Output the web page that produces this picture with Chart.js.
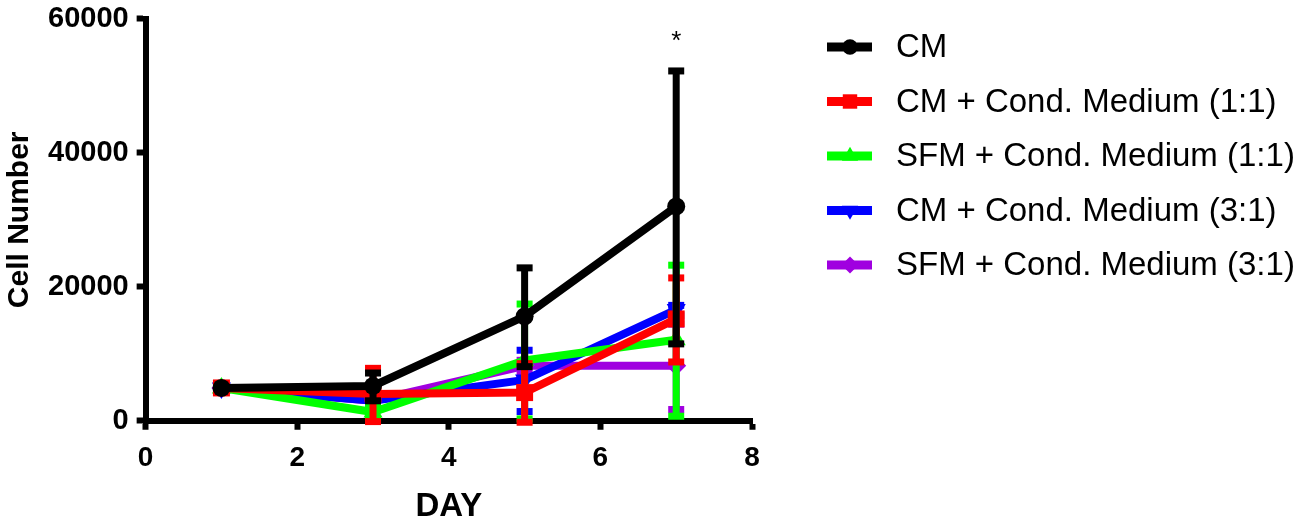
<!DOCTYPE html>
<html>
<head>
<meta charset="utf-8">
<script src="https://cdn.jsdelivr.net/npm/chart.js@4.4.1/dist/chart.umd.min.js"></script>
<style>
  html, body { margin: 0; padding: 0; background: #fff; }
  #wrap { width: 1298px; height: 528px; }
</style>
</head>
<body>
<div id="wrap"><canvas id="myChart" width="1298" height="528"></canvas></div>
<script>
// data
const days = [1, 3, 5, 7];
const seriesNames = ['CM', 'CM + Cond. Medium (1:1)', 'SFM + Cond. Medium (1:1)', 'CM + Cond. Medium (3:1)', 'SFM + Cond. Medium (3:1)'];
const cm      = [4900, 5200, 15600, 32000];
const cmErr   = [0, 2000, 7300, 20300];
const cm11    = [4900, 4000, 4200, 15200];
const cm11Err = [0, 3900, 4400, 6200];
const sfm11    = [4900, 1300, 9000, 12100];
const sfm11Err = [0, 800, 8500, 11200];
const cm31    = [4900, 3000, 6100, 16600];
const cm31Err = [0, 900, 4500, 700];
const sfm31    = [4900, 3000, 8200, 8200];
const sfm31Err = [0, 800, 900, 6300];
const yTicks = [0, 20000, 40000, 60000];
const xTicks = [0, 2, 4, 6, 8];
const sigDay = 7, sigValue = 56500, sigLabel = '*';

const colors = ['#000000', '#ff0000', '#00ff00', '#0000ff', '#a000e0'];
const shapes = ['circle', 'rect', 'triangle', 'triangle', 'rectRot'];
const rotations = [0, 0, 0, 180, 0];
const radii = [9, 12, 11, 11, 10];
const values = [cm, cm11, sfm11, cm31, sfm31];
const errors = [cmErr, cm11Err, sfm11Err, cm31Err, sfm31Err];

const datasets = values.map((vals, k) => ({
  label: seriesNames[k],
  data: days.map((d, i) => ({ x: d, y: vals[i] })),
  err: errors[k],
  borderColor: colors[k],
  backgroundColor: colors[k],
  borderWidth: 8,
  pointStyle: shapes[k],
  pointRotation: rotations[k],
  pointRadius: radii[k],
  pointBorderWidth: 0,
  pointHoverRadius: radii[k],
  tension: 0,
  clip: false
}));

// error bars drawn with each dataset so stacking order matches
const errorBars = {
  id: 'errorBars',
  afterDatasetDraw(chart, args) {
    const ds = chart.data.datasets[args.index];
    const xs = chart.scales.x, ys = chart.scales.y;
    const c = chart.ctx;
    c.save();
    c.strokeStyle = ds.borderColor;
    c.lineWidth = 7;
    c.lineCap = 'butt';
    ds.data.forEach((p, i) => {
      const e = ds.err[i];
      if (!e) return;
      const x = xs.getPixelForValue(p.x);
      const top = ys.getPixelForValue(p.y + e);
      const bot = ys.getPixelForValue(Math.max(p.y - e, 0)) + 2;
      c.beginPath();
      c.moveTo(x, top); c.lineTo(x, bot);
      c.stroke();
      c.fillStyle = ds.borderColor;
      c.fillRect(x - 8, top - 3, 16, 7);
      c.fillRect(x - 8, bot - 4, 16, 7);
    });
    c.restore();
  },
  afterDraw(chart) {
    const c = chart.ctx;
    const xs = chart.scales.x, ys = chart.scales.y;
    c.save();
    c.fillStyle = '#000';
    c.font = '26px "Liberation Sans", Arial, sans-serif';
    c.textAlign = 'center';
    c.textBaseline = 'middle';
    c.fillText(sigLabel, xs.getPixelForValue(sigDay), ys.getPixelForValue(sigValue));

    // legend: line segment with marker, then label
    c.font = '33px "Liberation Sans", Arial, sans-serif';
    c.textAlign = 'left';
    chart.data.datasets.forEach((ds, k) => {
      const y = 47 + k * 54.5;
      c.strokeStyle = ds.borderColor;
      c.lineWidth = 9;
      c.beginPath();
      c.moveTo(827, y); c.lineTo(872, y);
      c.stroke();
      c.fillStyle = ds.borderColor;
      Chart.helpers.drawPoint(c, { pointStyle: ds.pointStyle, rotation: ds.pointRotation, radius: ds.pointRadius * 0.85, borderWidth: 0 }, 850, y);
      c.fillStyle = '#000';
      c.fillText(ds.label, 896, y + 1);
    });
    c.restore();
  }
};

const ctx = document.getElementById('myChart');
new Chart(ctx, {
  type: 'line',
  data: { datasets: datasets },
  options: {
    responsive: false,
    animation: false,
    layout: { padding: { top: 0, right: 546, bottom: 4, left: 0 } },
    plugins: { legend: { display: false }, tooltip: { enabled: false } },
    scales: {
      x: {
        type: 'linear',
        min: 0, max: 8,
        afterBuildTicks: (s) => { s.ticks = xTicks.map(v => ({ value: v })); },
        grid: { drawOnChartArea: false, drawTicks: true, tickLength: 9, tickWidth: 6, tickColor: '#000' },
        border: { display: true, color: '#000', width: 6 },
        ticks: { color: '#000', padding: 12, font: { family: '"Liberation Sans Narrow", "Liberation Sans", Arial', size: 28, weight: 'bold' } },
        title: { display: true, text: 'DAY', color: '#000', padding: { top: 2, bottom: 0 }, font: { family: '"Liberation Sans Narrow", "Liberation Sans", Arial', size: 33, weight: 'bold', lineHeight: 1.05 } }
      },
      y: {
        min: 0, max: 60000,
        afterBuildTicks: (s) => { s.ticks = yTicks.map(v => ({ value: v })); },
        grid: { drawOnChartArea: false, drawTicks: true, tickLength: 9, tickWidth: 6, tickColor: '#000' },
        border: { display: true, color: '#000', width: 6 },
        ticks: { color: '#000', padding: 8, callback: (v) => String(v), font: { family: '"Liberation Sans", Arial', size: 29, weight: 'bold', lineHeight: 0.75 } },
        title: { display: true, text: 'Cell Number', color: '#000', padding: 2, font: { family: '"Liberation Sans", Arial', size: 30, weight: 'bold' } }
      }
    }
  },
  plugins: [errorBars]
});
</script>
</body>
</html>
